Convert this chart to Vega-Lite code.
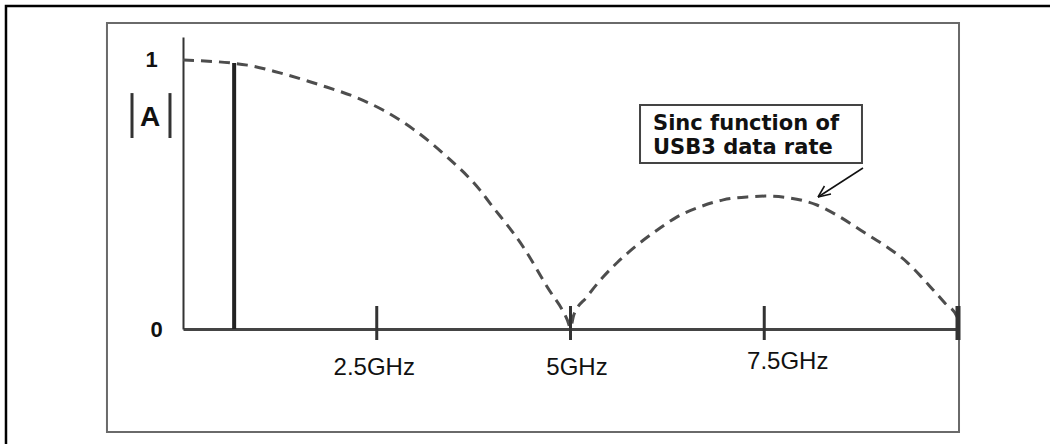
{
  "$schema": "https://vega.github.io/schema/vega-lite/v6.json",
  "width": 775,
  "height": 292,
  "autosize": {"type": "none"},
  "padding": {"left": 183, "top": 37, "right": 92, "bottom": 115},
  "background": "white",
  "config": {"view": {"stroke": null}},
  "datasets": {
    "curve": [
      {"f": 0.0, "a": 1.0},
      {"f": 0.83, "a": 0.981},
      {"f": 1.25, "a": 0.952},
      {"f": 1.77, "a": 0.907},
      {"f": 2.25, "a": 0.859},
      {"f": 2.58, "a": 0.814},
      {"f": 2.97, "a": 0.743},
      {"f": 3.41, "a": 0.639},
      {"f": 3.83, "a": 0.517},
      {"f": 3.96, "a": 0.468},
      {"f": 4.39, "a": 0.305},
      {"f": 4.7, "a": 0.156},
      {"f": 4.96, "a": 0.033},
      {"f": 5.0, "a": 0.005},
      {"f": 5.04, "a": 0.05},
      {"f": 5.21, "a": 0.119},
      {"f": 5.42, "a": 0.193},
      {"f": 5.61, "a": 0.249},
      {"f": 5.86, "a": 0.312},
      {"f": 6.12, "a": 0.368},
      {"f": 6.37, "a": 0.416},
      {"f": 6.67, "a": 0.454},
      {"f": 6.97, "a": 0.48},
      {"f": 7.28, "a": 0.491},
      {"f": 7.51, "a": 0.494},
      {"f": 7.83, "a": 0.487},
      {"f": 8.18, "a": 0.461},
      {"f": 8.48, "a": 0.416},
      {"f": 8.74, "a": 0.368},
      {"f": 9.06, "a": 0.309},
      {"f": 9.34, "a": 0.249},
      {"f": 9.53, "a": 0.193},
      {"f": 9.68, "a": 0.145},
      {"f": 9.83, "a": 0.097},
      {"f": 9.99, "a": 0.045},
      {"f": 10.0, "a": 0.01}
    ],
    "bar": [{"f": 0.66, "a": 0.989}],
    "ticks": [{"f": 2.5}, {"f": 5}, {"f": 7.5}, {"f": 10}]
  },
  "layer": [
    {
      "data": {"name": "curve"},
      "mark": {"type": "line", "strokeDash": [11, 7], "strokeWidth": 3, "color": "#4d4d4d", "interpolate": "monotone", "clip": false},
      "encoding": {
        "x": {
          "field": "f", "type": "quantitative",
          "scale": {"domain": [0, 10], "nice": false, "zero": false},
          "axis": {
            "title": null, "grid": false, "ticks": false,
            "values": [2.5, 5, 7.5],
            "labelExpr": "datum.value + 'GHz'",
            "domainColor": "#444444", "domainWidth": 3,
            "labelFont": "Liberation Sans", "labelFontSize": 24, "labelColor": "#111111",
            "labelPadding": {"condition": {"test": "datum.value == 7.5", "value": 20}, "value": 26},
            "labelOffset": {"condition": [{"test": "datum.value == 7.5", "value": 23}, {"test": "datum.value == 5", "value": 6}], "value": -3},
            "labelFlush": false, "labelOverlap": false
          }
        },
        "y": {
          "field": "a", "type": "quantitative",
          "scale": {"domain": [0, 1.0855], "nice": false, "zero": false},
          "axis": {
            "title": null, "grid": false, "ticks": false,
            "values": [0, 1],
            "format": "d",
            "domainColor": "#333333", "domainWidth": 2,
            "labelFont": "Liberation Sans", "labelFontSize": 22, "labelFontWeight": "bold", "labelColor": "#111111",
            "labelAlign": "center",
            "labelPadding": {"condition": {"test": "datum.value == 1", "value": 32}, "value": 27},
            "labelFlush": false, "labelOverlap": false
          }
        }
      }
    },
    {
      "data": {"values": [{}]},
      "mark": {"type": "rect", "fillOpacity": 0, "stroke": "#000000", "strokeWidth": 2.5, "clip": false},
      "encoding": {
        "x": {"datum": -2.284, "type": "quantitative", "scale": {"domain": [0, 10], "nice": false, "zero": false}},
        "x2": {"datum": 12.5},
        "y": {"datum": 1.2007, "type": "quantitative", "scale": {"domain": [0, 1.0855], "nice": false, "zero": false}},
        "y2": {"datum": -0.8}
      }
    },
    {
      "data": {"values": [{}]},
      "mark": {"type": "rect", "fillOpacity": 0, "stroke": "#6a6a6a", "strokeWidth": 2, "clip": false},
      "encoding": {
        "x": {"datum": -0.981, "type": "quantitative", "scale": {"domain": [0, 10], "nice": false, "zero": false}},
        "x2": {"datum": 10.013},
        "y": {"datum": 1.1375, "type": "quantitative", "scale": {"domain": [0, 1.0855], "nice": false, "zero": false}},
        "y2": {"datum": -0.3829}
      }
    },
    {
      "data": {"name": "ticks"},
      "mark": {"type": "rule", "color": "#333333", "clip": false},
      "encoding": {
        "x": {"field": "f", "type": "quantitative", "scale": {"domain": [0, 10], "nice": false, "zero": false}},
        "y": {"datum": -0.041, "type": "quantitative", "scale": {"domain": [0, 1.0855], "nice": false, "zero": false}},
        "y2": {"datum": 0.0855},
        "strokeWidth": {"condition": {"test": "datum.f == 10", "value": 5}, "value": 3}
      }
    },
    {
      "data": {"name": "bar"},
      "mark": {"type": "rule", "strokeWidth": 4, "color": "#222222", "clip": false},
      "encoding": {
        "x": {"field": "f", "type": "quantitative", "scale": {"domain": [0, 10], "nice": false, "zero": false}},
        "y": {"field": "a", "type": "quantitative", "scale": {"domain": [0, 1.0855], "nice": false, "zero": false}},
        "y2": {"datum": 0}
      }
    },
    {
      "data": {"values": [{}]},
      "mark": {"type": "rule", "strokeWidth": 3, "color": "#333333", "clip": false},
      "encoding": {
        "x": {"datum": -0.658, "type": "quantitative", "scale": {"domain": [0, 10], "nice": false, "zero": false}},
        "y": {"datum": 0.877, "type": "quantitative", "scale": {"domain": [0, 1.0855], "nice": false, "zero": false}},
        "y2": {"datum": 0.71}
      }
    },
    {
      "data": {"values": [{}]},
      "mark": {"type": "rule", "strokeWidth": 3, "color": "#333333", "clip": false},
      "encoding": {
        "x": {"datum": -0.168, "type": "quantitative", "scale": {"domain": [0, 10], "nice": false, "zero": false}},
        "y": {"datum": 0.877, "type": "quantitative", "scale": {"domain": [0, 1.0855], "nice": false, "zero": false}},
        "y2": {"datum": 0.71}
      }
    },
    {
      "data": {"values": [{}]},
      "mark": {"type": "text", "text": "A", "font": "Liberation Sans", "fontWeight": "bold", "fontSize": 28, "color": "#111111", "align": "center", "baseline": "middle", "clip": false},
      "encoding": {
        "x": {"datum": -0.426, "type": "quantitative", "scale": {"domain": [0, 10], "nice": false, "zero": false}},
        "y": {"datum": 0.786, "type": "quantitative", "scale": {"domain": [0, 1.0855], "nice": false, "zero": false}}
      }
    },
    {
      "data": {"values": [{}]},
      "mark": {"type": "rect", "fill": "white", "stroke": "#444444", "strokeWidth": 2, "clip": false},
      "encoding": {
        "x": {"datum": 5.897, "type": "quantitative", "scale": {"domain": [0, 10], "nice": false, "zero": false}},
        "x2": {"datum": 8.761},
        "y": {"datum": 0.8327, "type": "quantitative", "scale": {"domain": [0, 1.0855], "nice": false, "zero": false}},
        "y2": {"datum": 0.6171}
      }
    },
    {
      "data": {"values": [{}]},
      "mark": {"type": "text", "text": ["Sinc function of", "USB3 data rate"], "font": "DejaVu Sans", "fontWeight": "bold", "fontSize": 21, "lineHeight": 24, "color": "#111111", "align": "left", "baseline": "middle", "clip": false},
      "encoding": {
        "x": {"datum": 6.065, "type": "quantitative", "scale": {"domain": [0, 10], "nice": false, "zero": false}},
        "y": {"datum": 0.762, "type": "quantitative", "scale": {"domain": [0, 1.0855], "nice": false, "zero": false}}
      }
    },
    {
      "data": {"values": [{}]},
      "mark": {"type": "rule", "strokeWidth": 1.5, "color": "#111111", "clip": false},
      "encoding": {
        "x": {"datum": 8.774, "type": "quantitative", "scale": {"domain": [0, 10], "nice": false, "zero": false}},
        "y": {"datum": 0.5985, "type": "quantitative", "scale": {"domain": [0, 1.0855], "nice": false, "zero": false}},
        "x2": {"datum": 8.194},
        "y2": {"datum": 0.4907}
      }
    },
    {
      "data": {"values": [{}]},
      "mark": {"type": "rule", "strokeWidth": 1.5, "color": "#111111", "clip": false},
      "encoding": {
        "x": {"datum": 8.361, "type": "quantitative", "scale": {"domain": [0, 10], "nice": false, "zero": false}},
        "y": {"datum": 0.502, "type": "quantitative", "scale": {"domain": [0, 1.0855], "nice": false, "zero": false}},
        "x2": {"datum": 8.194},
        "y2": {"datum": 0.4907}
      }
    },
    {
      "data": {"values": [{}]},
      "mark": {"type": "rule", "strokeWidth": 1.5, "color": "#111111", "clip": false},
      "encoding": {
        "x": {"datum": 8.277, "type": "quantitative", "scale": {"domain": [0, 10], "nice": false, "zero": false}},
        "y": {"datum": 0.5316, "type": "quantitative", "scale": {"domain": [0, 1.0855], "nice": false, "zero": false}},
        "x2": {"datum": 8.194},
        "y2": {"datum": 0.4907}
      }
    }
  ]
}
